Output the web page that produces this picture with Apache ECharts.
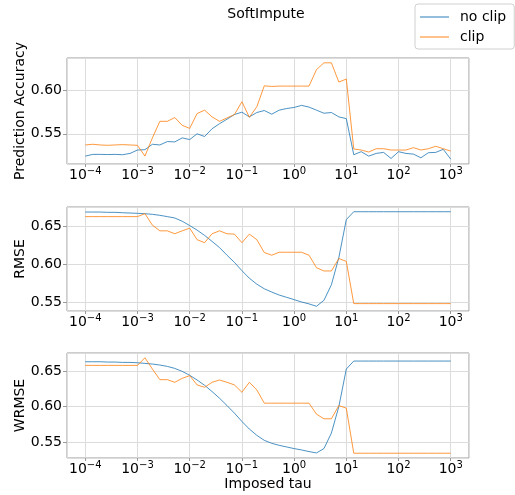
<!DOCTYPE html>
<html><head><meta charset="utf-8">
<script src="https://cdn.jsdelivr.net/npm/echarts@6/dist/echarts.min.js"></script>
<style>html,body{margin:0;padding:0;background:#fff}#c{width:515px;height:495px}</style>
</head><body><div id="c"></div><script>
// Imposed tau (50 log-spaced values, 1e-4 .. 1e3)
const tau = [
  1e-4, 1.389e-4, 1.931e-4, 2.683e-4, 3.728e-4, 5.179e-4, 7.197e-4,
  1e-3, 1.389e-3, 1.931e-3, 2.683e-3, 3.728e-3, 5.179e-3, 7.197e-3,
  1e-2, 1.389e-2, 1.931e-2, 2.683e-2, 3.728e-2, 5.179e-2, 7.197e-2,
  1e-1, 1.389e-1, 1.931e-1, 2.683e-1, 3.728e-1, 5.179e-1, 7.197e-1,
  1e0, 1.389, 1.931, 2.683, 3.728, 5.179, 7.197,
  1e1, 13.89, 19.31, 26.83, 37.28, 51.79, 71.97,
  1e2, 138.9, 193.1, 268.3, 372.8, 517.9, 719.7,
  1e3
];
const accNoClip = [
  0.5244,0.5264,0.5264,0.5262,0.5264,0.5260,0.5275,
  0.5314,0.5318,0.5380,0.5372,0.5411,0.5407,0.5453,
  0.5434,0.5500,0.5469,0.5558,0.5616,0.5667,0.5721,
  0.5748,0.5694,0.5744,0.5767,0.5725,0.5771,0.5790,
  0.5802,0.5826,0.5806,0.5771,0.5736,0.5744,0.5694,
  0.5674,0.5260,0.5295,0.5244,0.5275,0.5287,0.5217,
  0.5295,0.5275,0.5267,0.5225,0.5283,0.5287,0.5322,
  0.5209
];
const accClip = [
  0.5372,0.5380,0.5372,0.5368,0.5372,0.5376,0.5372,
  0.5368,0.5244,0.5453,0.5643,0.5643,0.5686,0.5597,
  0.5562,0.5733,0.5771,0.5694,0.5643,0.5682,0.5721,
  0.5868,0.5690,0.5810,0.6050,0.6043,0.6047,0.6047,
  0.6047,0.6047,0.6047,0.6236,0.6314,0.6314,0.6093,
  0.6128,0.5326,0.5314,0.5291,0.5329,0.5329,0.5314,
  0.5314,0.5314,0.5341,0.5314,0.5329,0.5357,0.5329,
  0.5302
];
const rmseNoClip = [
  0.6681,0.6681,0.6681,0.6677,0.6677,0.6672,0.6668,
  0.6664,0.6659,0.6651,0.6638,0.6621,0.6603,0.6560,
  0.6504,0.6444,0.6375,0.6297,0.6216,0.6116,0.6022,
  0.5914,0.5815,0.5737,0.5677,0.5634,0.5595,0.5565,
  0.5535,0.5504,0.5479,0.5448,0.5526,0.5729,0.6086,
  0.6582,0.6685,0.6685,0.6685,0.6685,0.6685,0.6685,
  0.6685,0.6685,0.6685,0.6685,0.6685,0.6685,0.6685,
  0.6685
];
const rmseClip = [
  0.6621,0.6621,0.6621,0.6621,0.6621,0.6621,0.6621,
  0.6621,0.6660,0.6509,0.6435,0.6435,0.6397,0.6435,
  0.6470,0.6319,0.6280,0.6397,0.6435,0.6397,0.6392,
  0.6280,0.6392,0.6319,0.6151,0.6116,0.6155,0.6155,
  0.6155,0.6155,0.6116,0.5953,0.5910,0.5910,0.6073,
  0.6035,0.5483,0.5483,0.5483,0.5483,0.5483,0.5483,
  0.5483,0.5483,0.5483,0.5483,0.5483,0.5483,0.5483,
  0.5483
];
const wrmseNoClip = [
  0.6630,0.6630,0.6630,0.6626,0.6626,0.6621,0.6621,
  0.6616,0.6607,0.6598,0.6584,0.6565,0.6537,0.6495,
  0.6440,0.6374,0.6300,0.6212,0.6119,0.6016,0.5909,
  0.5793,0.5686,0.5598,0.5528,0.5486,0.5458,0.5435,
  0.5412,0.5393,0.5370,0.5351,0.5412,0.5630,0.6002,
  0.6528,0.6640,0.6640,0.6640,0.6640,0.6640,0.6640,
  0.6640,0.6640,0.6640,0.6640,0.6640,0.6640,0.6640,
  0.6640
];
const wrmseClip = [
  0.6579,0.6579,0.6579,0.6579,0.6579,0.6579,0.6579,
  0.6579,0.6686,0.6528,0.6379,0.6379,0.6342,0.6398,
  0.6435,0.6305,0.6272,0.6342,0.6374,0.6342,0.6305,
  0.6202,0.6342,0.6235,0.6049,0.6049,0.6049,0.6049,
  0.6049,0.6049,0.6049,0.5895,0.5830,0.5830,0.6016,
  0.5979,0.5347,0.5347,0.5347,0.5347,0.5347,0.5347,
  0.5347,0.5347,0.5347,0.5347,0.5347,0.5347,0.5347,
  0.5347
];
const yNames = ['Prediction Accuracy', 'RMSE', 'WRMSE'];
const seriesNames = ['no clip', 'clip'];
const colors = ['#1f77b4', '#ff7f0e'];
const panels = [[accNoClip, accClip], [rmseNoClip, rmseClip], [wrmseNoClip, wrmseClip]];

const FONT = 'DejaVu Sans';
const gridPos = [{top: 58, height: 106}, {top: 207, height: 104}, {top: 353, height: 105}];
function padRange(a, b) {
  const lo = Math.min(...a, ...b), hi = Math.max(...a, ...b), r = hi - lo;
  return [lo - 0.05 * r, hi + 0.05 * r];
}
function xLabel(v) {
  const e = Math.log10(v), r = Math.round(e);
  if (Math.abs(e - r) > 1e-6) return '';
  return '{b|10}{s|' + String(r).replace('-', '\u2212') + '}';
}
function yLabel(v) {
  const k = v / 0.05;
  if (Math.abs(k - Math.round(k)) > 1e-6) return '';
  return v.toFixed(2);
}
const grids = [], xAxes = [], yAxes = [], series = [];
panels.forEach((p, gi) => {
  grids.push({left: 67, width: 402, top: gridPos[gi].top, height: gridPos[gi].height,
    show: true, borderColor: '#9a9a9a', borderWidth: 1, backgroundColor: 'transparent'});
  xAxes.push({
    type: 'log', gridIndex: gi, logBase: 10,
    min: Math.pow(10, -4.35), max: Math.pow(10, 3.35),
    axisLine: {show: false},
    axisTick: {show: true, length: 3, lineStyle: {color: '#9a9a9a'}},
    splitLine: {show: true, lineStyle: {color: '#dcdcdc', width: 1}},
    axisLabel: {show: true, margin: 2, formatter: xLabel, showMinLabel: false, showMaxLabel: false,
      rich: {
        b: {fontSize: 14, fontFamily: FONT, color: '#000', verticalAlign: 'bottom', lineHeight: 16},
        s: {fontSize: 10, fontFamily: FONT, color: '#000', verticalAlign: 'top', lineHeight: 16}
      }},
    name: gi === 2 ? 'Imposed tau' : '', nameLocation: 'middle', nameGap: 19, nameMoveOverlap: false,
    nameTextStyle: {fontSize: 14, fontFamily: FONT, color: '#000'}
  });
  const [ymin, ymax] = padRange(p[0], p[1]);
  yAxes.push({
    type: 'value', gridIndex: gi, min: ymin, max: ymax, splitNumber: 3, scale: true,
    axisLine: {show: false},
    axisTick: {show: true, length: 4, lineStyle: {color: '#9a9a9a'}},
    splitLine: {show: true, lineStyle: {color: '#dcdcdc', width: 1}},
    axisLabel: {fontSize: 14, fontFamily: FONT, color: '#000', margin: 5, formatter: yLabel,
      showMinLabel: false, showMaxLabel: false},
    name: yNames[gi], nameLocation: 'middle', nameGap: 40, nameRotate: 90, nameMoveOverlap: false,
    nameTextStyle: {fontSize: 14, fontFamily: FONT, color: '#000'}
  });
  p.forEach((vals, si) => {
    series.push({
      type: 'line', name: seriesNames[si], xAxisIndex: gi, yAxisIndex: gi,
      data: tau.map((t, i) => [t, vals[i]]),
      symbol: 'none', showSymbol: false, animation: false,
      lineStyle: {color: colors[si], width: 1, opacity: 0.8},
      itemStyle: {color: colors[si]}
    });
  });
});
const chart = echarts.init(document.getElementById('c'), null, {renderer: 'canvas'});
chart.setOption({
  animation: false,
  backgroundColor: '#fff',
  title: {text: 'SoftImpute', left: 261, textAlign: 'center', top: 2,
    textStyle: {fontSize: 14, fontWeight: 'normal', fontFamily: FONT, color: '#000'}},
  legend: {data: seriesNames.map(n => ({name: n, icon: 'rect'})), orient: 'vertical', left: 415, top: 4,
    padding: [6, 8, 5, 5], itemGap: 6, itemWidth: 29, itemHeight: 1.2,
    itemStyle: {opacity: 0.8},
    borderColor: '#d0d0d0', borderWidth: 1, borderRadius: 3, backgroundColor: '#fff',
    textStyle: {fontSize: 14, fontFamily: FONT, color: '#000', padding: [0, 0, 0, 6]}},
  grid: grids, xAxis: xAxes, yAxis: yAxes, series: series
});
</script></body></html>
